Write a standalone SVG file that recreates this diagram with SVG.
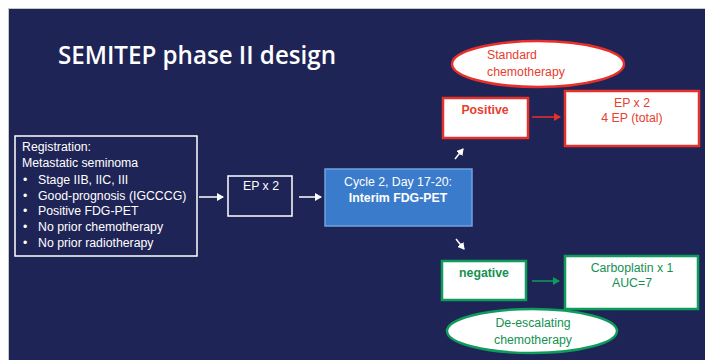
<svg xmlns="http://www.w3.org/2000/svg" width="705" height="360" viewBox="0 0 705 360">
<defs>
<style>
text{font-family:"Liberation Sans",Arial,sans-serif}
.w{fill:#ffffff;font-size:12.3px}
.wl{fill:none;stroke:#ffffff;stroke-width:1.5}
.r{fill:#e8402f;font-size:12.3px}
.g{fill:#149152;font-size:12.3px}
.rb{fill:#ffffff;stroke:#e8302a;stroke-width:2.5}
.gb{fill:#ffffff;stroke:#0f9b5c;stroke-width:2.5}
</style>
<marker id="aw" markerWidth="8" markerHeight="8" refX="6" refY="4" orient="auto" markerUnits="userSpaceOnUse"><path d="M0,0 L7,4 L0,8 Z" fill="#ffffff"/></marker>
<marker id="ar" markerWidth="8" markerHeight="8" refX="6" refY="4" orient="auto" markerUnits="userSpaceOnUse"><path d="M0,0 L7,4 L0,8 Z" fill="#e8302a"/></marker>
<marker id="ag" markerWidth="8" markerHeight="8" refX="6" refY="4" orient="auto" markerUnits="userSpaceOnUse"><path d="M0,0 L7,4 L0,8 Z" fill="#0f9b5c"/></marker>
</defs>
<rect x="0" y="0" width="705" height="360" fill="#ffffff"/>
<rect x="8" y="8" width="697" height="352" fill="#c8c8c8"/>
<rect x="9" y="9" width="696" height="351" fill="#1f2456"/>
<text x="58" y="64" fill="#ffffff" font-weight="600" style="font-size:25px;font-family:'Open Sans','Liberation Sans',sans-serif" textLength="278" lengthAdjust="spacingAndGlyphs">SEMITEP phase II design</text>

<g id="connectors">
<line x1="199" y1="197" x2="223" y2="197" stroke="#ffffff" stroke-width="1.5" marker-end="url(#aw)"/>
<line x1="299" y1="197" x2="321" y2="197" stroke="#ffffff" stroke-width="1.5" marker-end="url(#aw)"/>
<line x1="455" y1="159" x2="463" y2="149" stroke="#ffffff" stroke-width="1.5" marker-end="url(#aw)"/>
<line x1="456" y1="239" x2="464" y2="249" stroke="#ffffff" stroke-width="1.5" marker-end="url(#aw)"/>
<line x1="532" y1="117" x2="560" y2="117" stroke="#e8302a" stroke-width="1.5" marker-end="url(#ar)"/>
<line x1="532" y1="281" x2="559" y2="281" stroke="#0f9b5c" stroke-width="1.5" marker-end="url(#ag)"/>
</g>

<g id="registration">
<rect x="15" y="136" width="182" height="120" class="wl"/>
<text class="w" x="22" y="151">Registration:</text>
<text class="w" x="22" y="167">Metastatic seminoma</text>
<text class="w" x="23" y="184">•</text><text class="w" x="38" y="184">Stage IIB, IIC, III</text>
<text class="w" x="23" y="200">•</text><text class="w" x="38" y="200">Good-prognosis (IGCCCG)</text>
<text class="w" x="23" y="215">•</text><text class="w" x="38" y="215">Positive FDG-PET</text>
<text class="w" x="23" y="231">•</text><text class="w" x="38" y="231">No prior chemotherapy</text>
<text class="w" x="23" y="247">•</text><text class="w" x="38" y="247">No prior radiotherapy</text>
</g>

<g id="ep2">
<rect x="228" y="176" width="64" height="40" class="wl"/>
<text class="w" x="261" y="190" text-anchor="middle">EP x 2</text>
</g>

<g id="interim">
<rect x="325" y="169" width="147" height="57" fill="#3a7ccb" stroke="#6fa3df" stroke-width="1.5"/>
<text class="w" x="398" y="186" text-anchor="middle" fill="#e6eef8">Cycle 2, Day 17-20:</text>
<text class="w" x="398" y="202" text-anchor="middle" font-weight="bold">Interim FDG-PET</text>
</g>

<g id="standard">
<ellipse cx="538" cy="64" rx="86" ry="23" class="rb" stroke-width="3"/>
<text class="r" x="487" y="59">Standard</text>
<text class="r" x="487" y="76">chemotherapy</text>
</g>

<g id="positive">
<rect x="443" y="98" width="85" height="40" class="rb"/>
<text class="r" x="485" y="114" text-anchor="middle" font-weight="600">Positive</text>
</g>

<g id="epTotal">
<rect x="565" y="91" width="134" height="55" class="rb"/>
<text class="r" x="632" y="107" text-anchor="middle">EP x 2</text>
<text class="r" x="632" y="122" text-anchor="middle">4 EP (total)</text>
</g>

<g id="negative">
<rect x="442" y="261" width="84" height="39" class="gb"/>
<text class="g" x="484" y="277" text-anchor="middle" font-weight="600">negative</text>
</g>

<g id="carboplatin">
<rect x="565" y="256" width="133" height="53" class="gb"/>
<text class="g" x="632" y="272" text-anchor="middle">Carboplatin x 1</text>
<text class="g" x="632" y="287" text-anchor="middle">AUC=7</text>
</g>

<g id="deescalating">
<ellipse cx="532" cy="331" rx="85" ry="22" class="gb" stroke-width="3"/>
<text class="g" x="533" y="327" text-anchor="middle">De-escalating</text>
<text class="g" x="533" y="344" text-anchor="middle">chemotherapy</text>
</g>
</svg>
